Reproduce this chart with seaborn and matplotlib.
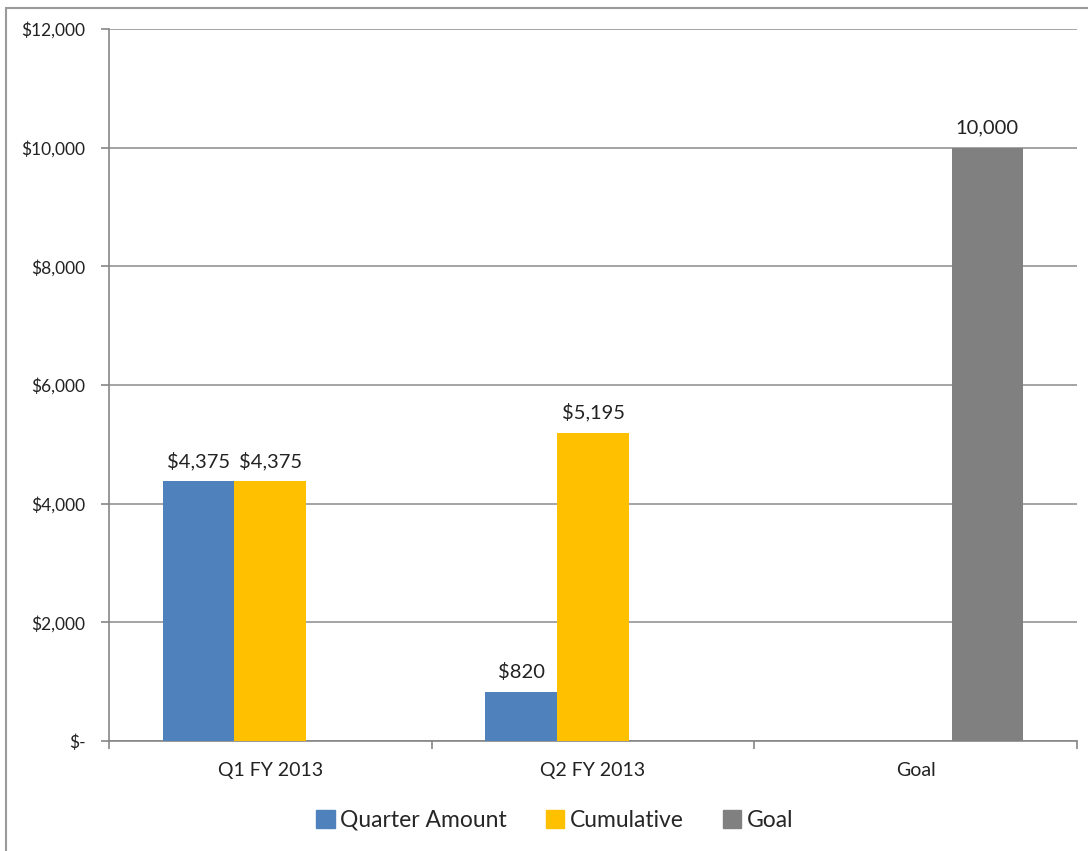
import seaborn as sns
import matplotlib.pyplot as plt
import matplotlib.patches as mpatches
import numpy as np
import pandas as pd

categories = ['Q1 FY 2013', 'Q2 FY 2013', 'Goal']
series = ['Quarter Amount', 'Cumulative', 'Goal']
quarter_amount = [4375, 820, np.nan]
cumulative = [4375, 5195, np.nan]
goal = [np.nan, np.nan, 10000]
bar_labels = {
    'Quarter Amount': ['$4,375', '$820', ''],
    'Cumulative': ['$4,375', '$5,195', ''],
    'Goal': ['', '', '10,000'],
}
y_ticks = [0, 2000, 4000, 6000, 8000, 10000, 12000]
y_tick_labels = ['$-', '$2,000', '$4,000', '$6,000', '$8,000', '$10,000', '$12,000']
colors = ['#4F81BD', '#FFC000', '#808080']

sns.set_theme(style='white')
plt.rcParams['font.family'] = ['Lato', 'DejaVu Sans']

df = pd.DataFrame({
    'category': categories * 3,
    'series': [s for s in series for _ in categories],
    'value': quarter_amount + cumulative + goal,
})

fig = plt.figure(figsize=(10.88, 8.51), dpi=100)
ax = fig.add_axes([0.1002, 0.1293, 0.8897, 0.8366])

sns.barplot(data=df, x='category', y='value', hue='series', order=categories,
            hue_order=series, palette=colors, width=0.667, saturation=1,
            errorbar=None, linewidth=0, ax=ax, zorder=3)

for cont, name in zip(ax.containers, series):
    ax.bar_label(cont, labels=[l for l, v in zip(bar_labels[name],
                 df[df.series == name].value) if not np.isnan(v)],
                 padding=8, fontsize=14.5, color='#222222')

ax.set_ylim(0, 12000)
ax.set_xlim(-0.5, 2.5)
ax.set_yticks(y_ticks)
ax.set_yticklabels(y_tick_labels, fontsize=12.5, color='#222222')
ax.set_xticks([0, 1, 2])
ax.set_xticklabels(categories, fontsize=14, color='#222222')
ax.set_xticks([-0.5, 0.5, 1.5, 2.5], minor=True)
ax.tick_params(axis='x', which='major', length=0, pad=15)
ax.tick_params(axis='x', which='minor', length=6, color='#868686', width=1.2,
               direction='out', bottom=True)
ax.tick_params(axis='y', length=6, color='#868686', width=1.2, left=True,
               direction='out', pad=11)
ax.grid(axis='y', color='#8c8c8c', linewidth=1.1, zorder=0)
ax.set_xlabel('')
ax.set_ylabel('')
for side in ['top', 'right']:
    ax.spines[side].set_visible(False)
for side in ['left', 'bottom']:
    ax.spines[side].set_color('#868686')
    ax.spines[side].set_linewidth(1.2)

ax.legend_.remove()
handles = [mpatches.Patch(color=c, label=s) for c, s in zip(colors, series)]
fig.legend(handles=handles, loc='center', bbox_to_anchor=(0.51, 0.036),
           ncol=3, frameon=False, fontsize=16.5, handlelength=0.8,
           handleheight=0.8, handletextpad=0.25, columnspacing=1.7)

fig.patches.append(mpatches.Rectangle((6 / 1088, -0.1), 1.2, 1 - 8 / 851 + 0.1,
                                      transform=fig.transFigure, fill=False,
                                      edgecolor='#9a9a9a', linewidth=1.5))

fig.savefig('out.png', dpi=100)
